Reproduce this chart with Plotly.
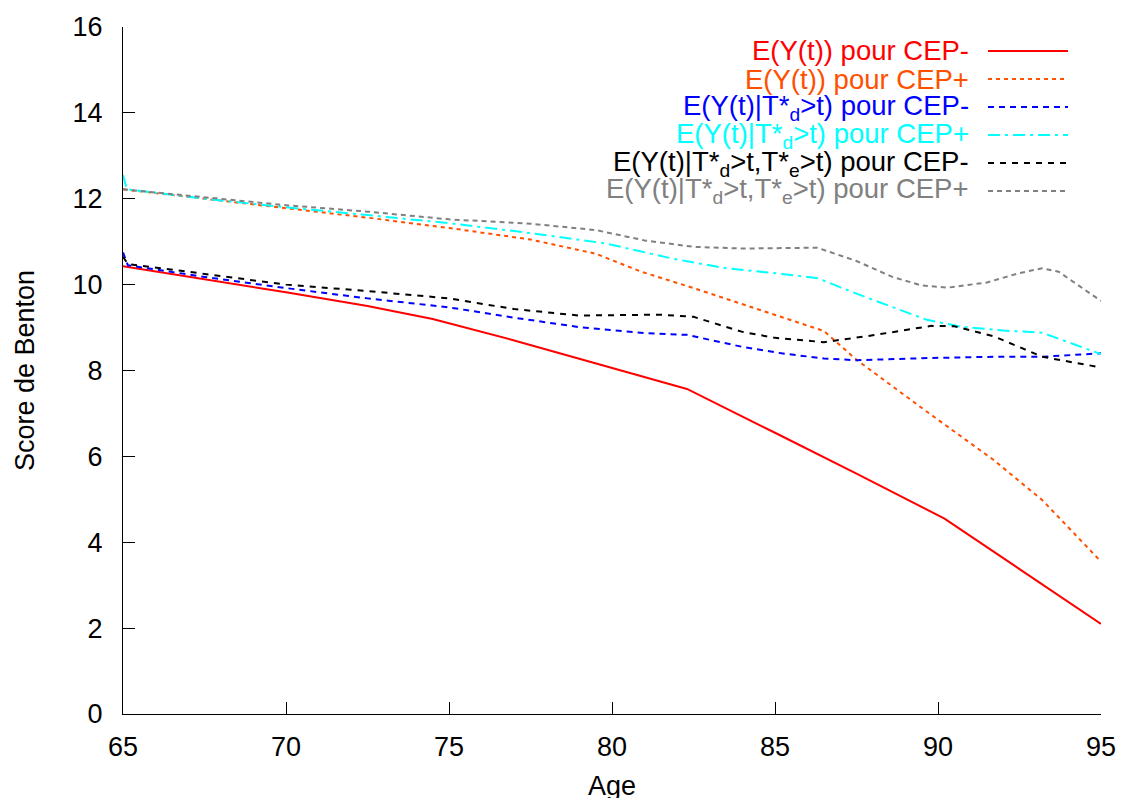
import plotly.graph_objects as go

# ---- data ----
red_x = [65, 67.5, 70, 72.5, 74.5, 77, 80, 82.3, 85, 87.5, 90.2, 92.5, 95]
red_y = [10.43, 10.13, 9.82, 9.5, 9.2, 8.7, 8.07, 7.57, 6.55, 5.6, 4.55, 3.37, 2.1]

orange_x = [65, 67.5, 70, 72.5, 75, 77.5, 79.5, 80.9, 82.5, 85, 86.5, 87.5, 89.66, 91.7, 93.2, 95]
orange_y = [12.22, 12.0, 11.78, 11.56, 11.32, 11.05, 10.72, 10.3, 9.92, 9.3, 8.92, 8.25, 7.04, 5.92, 4.98, 3.55]

blue_x = [65, 65.15, 67.5, 70, 72.5, 75, 77, 79, 81, 82.3, 84, 85.2, 86.5, 87.5, 89.7, 91.7, 93.2, 95]
blue_y = [10.75, 10.45, 10.18, 9.92, 9.68, 9.47, 9.23, 9.01, 8.87, 8.83, 8.55, 8.4, 8.28, 8.24, 8.29, 8.32, 8.32, 8.4]

cyan_x = [65, 65.12, 67.5, 70, 72.5, 75, 77.5, 79.8, 81.9, 83.5, 85.2, 86.3, 87.6, 89.66, 90.7, 92, 93.2, 95]
cyan_y = [12.55, 12.22, 12.0, 11.8, 11.62, 11.43, 11.2, 10.96, 10.6, 10.38, 10.25, 10.15, 9.76, 9.18, 9.02, 8.93, 8.88, 8.38]

black_x = [65, 65.15, 67.5, 70, 72.5, 75, 77, 79, 81.5, 82.5, 84, 85, 86.5, 88, 89.8, 90.5, 91.7, 93.2, 95]
black_y = [10.65, 10.48, 10.25, 10.0, 9.85, 9.68, 9.43, 9.28, 9.3, 9.25, 8.9, 8.76, 8.66, 8.82, 9.04, 9.03, 8.8, 8.32, 8.07]

grey_x = [65, 67.5, 70, 72.5, 75, 77.5, 79.5, 81, 82.5, 84, 85.5, 86.3, 87.5, 88.6, 89.5, 90.3, 91.5, 92.5, 93.2, 93.7, 95]
grey_y = [12.22, 12.03, 11.85, 11.7, 11.52, 11.42, 11.27, 11.03, 10.88, 10.84, 10.86, 10.86, 10.55, 10.18, 9.98, 9.93, 10.05, 10.27, 10.38, 10.3, 9.62]

names = [
    "E(Y(t)) pour CEP-",
    "E(Y(t)) pour CEP+",
    "E(Y(t)|T*<sub>d</sub>>t) pour CEP-",
    "E(Y(t)|T*<sub>d</sub>>t) pour CEP+",
    "E(Y(t)|T*<sub>d</sub>>t,T*<sub>e</sub>>t) pour CEP-",
    "E(Y(t)|T*<sub>d</sub>>t,T*<sub>e</sub>>t) pour CEP+",
]
colors = ["#ff0000", "#ff5000", "#0000ff", "#00ffff", "#000000", "#808080"]
dashes = ["solid", "4px,4px", "6px,5px", "12px,5px,3px,5px", "6px,6px", "5px,4px"]
xs = [red_x, orange_x, blue_x, cyan_x, black_x, grey_x]
ys = [red_y, orange_y, blue_y, cyan_y, black_y, grey_y]

x_ticks = [65, 70, 75, 80, 85, 90, 95]
y_ticks = [0, 2, 4, 6, 8, 10, 12, 14, 16]

FONT = "Liberation Sans, Arial, Helvetica, sans-serif"

fig = go.Figure()
for n, c, d, x, y in zip(names, colors, dashes, xs, ys):
    fig.add_trace(go.Scatter(x=x, y=y, mode="lines", name=n,
                             line=dict(color=c, width=2, dash=d),
                             showlegend=False))

# page offset (body margin) compensation
OFF = 8
W, H = 1128, 798
L, R, T, B = 123 - OFF, 27 + OFF, 27 - OFF, 84 + OFF
pw, ph = W - L - R, H - T - B

# manual legend (text right-aligned, sample line on the right, like gnuplot)
row_py = [51, 79, 107, 135, 163, 191]          # target screen pixels
text_right_px = 970
line_x0_px, line_x1_px = 988, 1068
for n, c, d, py in zip(names, colors, dashes, row_py):
    yp = (714 - py) / ph
    fig.add_annotation(xref="paper", yref="paper",
                       x=(text_right_px - 123) / pw, y=yp,
                       xanchor="right", yanchor="middle",
                       text=n, showarrow=False, borderpad=0,
                       font=dict(family=FONT, size=27.5, color=c))
    fig.add_shape(type="line", xref="paper", yref="paper",
                  x0=(line_x0_px - 123) / pw, x1=(line_x1_px - 123) / pw,
                  y0=yp, y1=yp,
                  line=dict(color=c, width=2, dash=d))

fig.update_layout(
    width=W, height=H,
    margin=dict(l=L, r=R, t=T, b=B, pad=0),
    plot_bgcolor="white", paper_bgcolor="white",
    font=dict(family=FONT, size=27, color="black"),
)
fig.update_xaxes(range=[65, 95], tickvals=x_ticks, ticktext=[str(v) for v in x_ticks],
                 showgrid=False, zeroline=False, showline=True, linecolor="black",
                 linewidth=1, ticks="inside", ticklen=12, tickcolor="black",
                 tickfont=dict(size=27), automargin=False,
                 title=dict(text="Age", standoff=14, font=dict(size=27)),
                 ticklabelstandoff=9)
fig.update_yaxes(range=[0, 16], tickvals=y_ticks, ticktext=[str(v) for v in y_ticks],
                 showgrid=False, zeroline=False, showline=True, linecolor="black",
                 linewidth=1, ticks="inside", ticklen=12, tickcolor="black",
                 tickfont=dict(size=27), automargin=False,
                 title=dict(text="Score de Benton", standoff=30, font=dict(size=27)),
                 ticklabelstandoff=14)

fig.write_html("out.html")
